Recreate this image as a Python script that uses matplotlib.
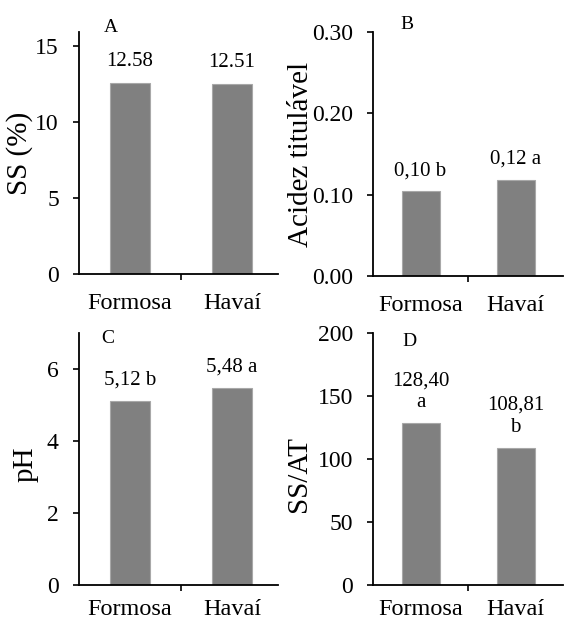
import matplotlib
matplotlib.use('Agg')
import matplotlib.pyplot as plt
from matplotlib.ticker import FormatStrFormatter

plt.rcParams['font.family'] = ['Liberation Serif', 'DejaVu Serif']

cultivares = ['Formosa', 'Havaí']

ss = [12.58, 12.51]
ss_labels = ['12.58', '12.51']

acidez = [0.104, 0.118]
acidez_labels = ['0,10 b', '0,12 a']

ph = [5.12, 5.48]
ph_labels = ['5,12 b', '5,48 a']

ss_at = [128.40, 108.81]
ss_at_labels = ['128,40\na', '108,81\nb']

W, H = 567, 622
fig = plt.figure(figsize=(W / 100, H / 100), dpi=100)


def box(left, right, bottom, top):
    # pixel box -> figure fraction
    return [left / W, 1 - bottom / H, (right - left) / W, (bottom - top) / H]


panels = [
    # values, labels, ylabel, letter, ylim, yticks, fmt, axes box, xlim, letter pos, ylabel pos, xpad
    (ss, ss_labels, 'SS (%)', 'A', 15.9, [0, 5, 10, 15], '%d',
     box(79, 278, 274, 32), (-0.5, 1.45), (0.16, 1.02), (-0.30, 0.50), 14),
    (acidez, acidez_labels, 'Acidez titulável', 'B', 0.30, [0, 0.1, 0.2, 0.3], '%.2f',
     box(373, 563, 276, 32), (-0.5, 1.5), (0.18, 1.03), (-0.38, 0.50), 14),
    (ph, ph_labels, 'pH', 'C', 7, [0, 2, 4, 6], '%d',
     box(79, 278, 585, 333), (-0.5, 1.45), (0.145, 0.98), (-0.27, 0.48), 10),
    (ss_at, ss_at_labels, 'SS/AT', 'D', 200, [0, 50, 100, 150, 200], '%d',
     box(373, 563, 585, 333), (-0.5, 1.5), (0.19, 0.965), (-0.39, 0.44), 10),
]

for vals, labs, ylab, letter, ymax, yt, fmt, rect, xl, lpos, ylpos, xpad in panels:
    ax = fig.add_axes(rect)
    x = range(len(cultivares))
    ax.bar(x, vals, width=0.4, color='#808080', edgecolor='#a8a8a8', linewidth=0.8)
    for i, (v, t) in enumerate(zip(vals, labs)):
        ax.annotate(t, (i, v), xytext=(0, 8), textcoords='offset points',
                    ha='center', va='bottom', fontsize=15, linespacing=1.2)
    ax.set_xlim(*xl)
    ax.set_ylim(0, ymax)
    ax.set_yticks(yt)
    ax.yaxis.set_major_formatter(FormatStrFormatter(fmt))
    ax.set_xticks(list(x))
    ax.set_xticklabels(cultivares)
    ax.set_xticks([0.5], minor=True)
    ax.tick_params(axis='x', which='major', length=0, pad=xpad, labelsize=17.5)
    ax.tick_params(axis='x', which='minor', length=4.5, width=1.2, direction='out')
    ax.tick_params(axis='y', length=4.5, width=1.2, direction='out', pad=10, labelsize=17)
    for s in ['top', 'right']:
        ax.spines[s].set_visible(False)
    for s in ['left', 'bottom']:
        ax.spines[s].set_linewidth(1.3)
    ax.set_ylabel(ylab, fontsize=21, va='center')
    ax.yaxis.set_label_coords(*ylpos)
    ax.text(lpos[0], lpos[1], letter, transform=ax.transAxes, ha='center', va='center',
            fontsize=14)

fig.savefig('out.png', dpi=100)
